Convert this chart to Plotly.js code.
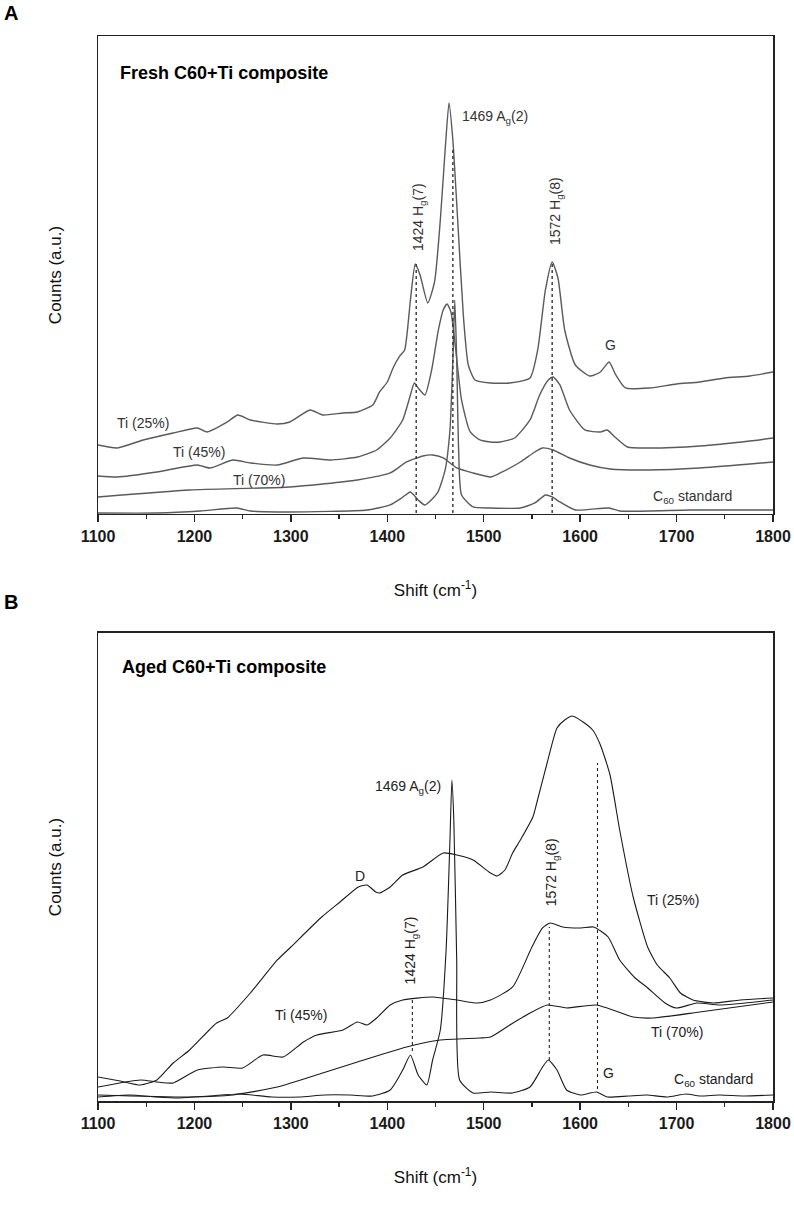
<!DOCTYPE html>
<html><head><meta charset="utf-8">
<script src="https://cdn.plot.ly/plotly-3.0.1.min.js"></script>
<style>body{margin:0;background:#fff}</style>
</head><body><div id="chart" style="width:794px;height:1214px"></div>
<script>
// ---------- Panel A: fresh composite (Raman shift cm-1, counts a.u.) ----------
const shiftA_Ti25 = [1100,1120,1147,1178,1203,1213,1234,1245,1258,1286,1299,1320,1333,1354,1369,1385,1392,1400,1406,1413,1418,1424,1429,1434,1442,1449,1455,1460,1464,1468,1473,1479,1484,1491,1507,1527,1548,1556,1564,1571,1577,1584,1595,1610,1621,1630,1637,1647,1672,1700,1724,1750,1776,1800];
const countsA_Ti25 = [69,66,74,81,86,82,92,99,94,90,92,104,99,101,102,109,122,132,146,158,164,214,250,239,211,232,294,364,411,374,294,197,149,134,131,131,136,164,224,252,236,184,149,138,142,152,139,126,126,130,132,136,138,142];

const shiftA_Ti45 = [1100,1120,1161,1203,1216,1240,1258,1286,1313,1341,1369,1389,1403,1416,1424,1428,1432,1439,1446,1453,1458,1462,1466,1471,1477,1486,1496,1507,1517,1532,1548,1558,1567,1572,1579,1589,1605,1621,1628,1636,1649,1672,1724,1776,1800];
const countsA_Ti45 = [38,37,42,49,46,54,51,49,56,54,57,64,76,94,119,131,126,119,144,184,204,210,202,164,114,82,74,72,72,76,94,119,134,137,129,104,84,82,84,77,67,66,68,73,76];

const shiftA_Ti70 = [1100,1195,1299,1369,1403,1420,1437,1447,1458,1472,1489,1507,1517,1538,1553,1561,1572,1589,1610,1631,1672,1724,1776,1800];
const countsA_Ti70 = [17,24,27,34,41,52,58,59,56,46,41,37,41,52,62,66,64,56,49,45,44,46,50,52];

const shiftA_C60 = [1100,1161,1206,1244,1258,1299,1379,1403,1415,1424,1432,1439,1452,1460,1465,1468,1470,1472,1474,1477,1489,1507,1538,1553,1564,1571,1579,1595,1630,1641,1714,1800];
const countsA_C60 = [1,1,3,6,3,2,4,9,16,22,14,9,21,44,84,154,214,154,64,19,7,6,6,11,19,17,12,4,6,3,4,4];

// peak marker lines (panel A)
const markA_shift = [1430,1468,1571];
const markA_top   = [250,367,252];
const markA_base  = [1,1,1];

// ---------- Panel B: aged composite ----------
const shiftB_Ti25 = [1100,1123,1144,1161,1178,1195,1223,1234,1258,1286,1300,1332,1351,1370,1379,1388,1392,1403,1416,1437,1458,1472,1489,1507,1514,1522,1530,1538,1551,1555,1566,1576,1584,1592,1603,1613,1621,1631,1641,1655,1670,1680,1693,1704,1717,1738,1766,1800];
const countsB_Ti25 = [24,20,16,21,38,51,78,83,108,141,154,184,199,214,216,209,208,214,226,234,248,246,241,228,225,231,248,261,284,298,339,373,381,385,379,371,356,326,271,204,154,136,123,108,101,98,101,103];

const shiftB_Ti45 = [1100,1144,1161,1178,1203,1230,1250,1271,1292,1313,1327,1354,1369,1379,1389,1403,1416,1447,1472,1493,1507,1530,1550,1561,1569,1582,1601,1614,1629,1641,1657,1669,1688,1700,1721,1745,1800];
const countsB_Ti45 = [14,21,19,18,31,34,33,46,44,59,66,71,79,76,83,96,101,104,101,98,101,114,154,173,178,174,173,174,164,141,123,114,98,93,98,96,101];

const shiftB_Ti70 = [1100,1195,1240,1286,1333,1369,1420,1455,1496,1507,1527,1548,1566,1586,1617,1655,1676,1724,1800];
const countsB_Ti70 = [6,4,6,14,28,39,54,61,63,64,76,88,96,93,96,84,83,89,99];

const shiftB_C60 = [1100,1133,1160,1185,1215,1247,1280,1309,1335,1361,1385,1403,1416,1424,1432,1441,1447,1455,1461,1465,1467,1469,1472,1475,1489,1507,1530,1548,1561,1567,1576,1586,1600,1617,1628,1650,1669,1690,1710,1724,1745,1770,1800];
const countsB_C60 = [4,6,4,3,5,7,4,4,6,6,5,11,31,46,26,16,41,71,151,261,321,281,141,21,8,9,8,14,34,41,31,11,6,9,4,5,6,4,7,5,6,5,6];

// peak marker lines (panel B)
const markB_shift = [1426,1568,1618];
const markB_top   = [101,174,338];
const markB_base  = [50,41,12];

// tick labels
const tickVals = [1100,1200,1300,1400,1500,1600,1700,1800];
const tickText = ['1100','1200','1300','1400','1500','1600','1700','1800'];

// ---------- build ----------
const colA = '#5a5a5a', colB = '#1a1a1a';
function curve(x,y,xa,ya,col,w){return {x:x,y:y,xaxis:xa,yaxis:ya,type:'scatter',mode:'lines',line:{color:col,width:w,shape:'spline',smoothing:0.55},hoverinfo:'skip',showlegend:false};}
const traces = [
  curve(shiftA_Ti25,countsA_Ti25,'x','y',colA,1.4),
  curve(shiftA_Ti45,countsA_Ti45,'x','y',colA,1.4),
  curve(shiftA_Ti70,countsA_Ti70,'x','y',colA,1.4),
  curve(shiftA_C60,countsA_C60,'x','y',colA,1.4),
  curve(shiftB_Ti25,countsB_Ti25,'x2','y2',colB,1.1),
  curve(shiftB_Ti45,countsB_Ti45,'x2','y2',colB,1.1),
  curve(shiftB_Ti70,countsB_Ti70,'x2','y2',colB,1.1),
  curve(shiftB_C60,countsB_C60,'x2','y2',colB,1.1)
];
markA_shift.forEach((s,i)=>traces.push({x:[s,s],y:[markA_base[i],markA_top[i]],xaxis:'x',yaxis:'y',type:'scatter',mode:'lines',line:{color:'#333',width:1.4,dash:'dot'},hoverinfo:'skip',showlegend:false}));
markB_shift.forEach((s,i)=>traces.push({x:[s,s],y:[markB_base[i],markB_top[i]],xaxis:'x2',yaxis:'y2',type:'scatter',mode:'lines',line:{color:'#222',width:1.1,dash:'3px,3px'},hoverinfo:'skip',showlegend:false}));

const F = 'Liberation Sans, Arial, sans-serif';
function xax(domainAnchor){return {
  anchor:domainAnchor, range:[1100,1800], showgrid:false, zeroline:false,
  showline:true, mirror:true, linecolor:'#222', linewidth:1.5,
  ticks:'outside', ticklen:7, tickwidth:1.5, tickcolor:'#222',
  tickvals:tickVals, ticktext:tickText,
  minor:{ticks:'outside', ticklen:4, tickwidth:1.3, tickcolor:'#222', tickvals:[1150,1250,1350,1450,1550,1650,1750]},
  tickfont:{family:F,size:16,color:'#1a1a1a',weight:'bold'},
  title:{text:'Shift (cm<sup>-1</sup>)', font:{family:F,size:17,color:'#111'}, standoff:40},
  automargin:false, fixedrange:true};}
function yax(dom,rng,anchor){return {
  domain:dom, anchor:anchor, range:rng, showgrid:false, zeroline:false,
  showline:true, mirror:true, linecolor:'#222', linewidth:1.5,
  ticks:'', showticklabels:false,
  title:{text:'Counts (a.u.)', font:{family:F,size:17,color:'#111'}, standoff:30},
  automargin:false, fixedrange:true};}

function ann(x,y,text,xa,ya,opt){return Object.assign({x:x,y:y,xref:xa,yref:ya,text:text,showarrow:false,font:{family:F,size:14,color:'#333'}},opt||{});}
const annotations = [
  // panel letters & titles
  {x:-0.142,y:1.022,xref:'paper',yref:'paper',xanchor:'left',yanchor:'middle',text:'<b>A</b>',showarrow:false,font:{family:F,size:20,color:'#000'}},
  {x:-0.142,y:0.4685,xref:'paper',yref:'paper',xanchor:'left',yanchor:'middle',text:'<b>B</b>',showarrow:false,font:{family:F,size:20,color:'#000'}},
  {x:0.029,y:0.9653,xref:'paper',yref:'paper',xanchor:'left',yanchor:'middle',text:'<b>Fresh C60+Ti composite</b>',showarrow:false,font:{family:F,size:18,color:'#000'}},
  {x:0.032,y:0.4075,xref:'paper',yref:'paper',xanchor:'left',yanchor:'middle',text:'<b>Aged C60+Ti composite</b>',showarrow:false,font:{family:F,size:18,color:'#000'}},
  // panel A labels
  ann(1475,397,'1469 A<sub>g</sub>(2)','x','y',{xanchor:'left'}),
  ann(1433,297,'1424 H<sub>g</sub>(7)','x','y',{textangle:-90}),
  ann(1575,303,'1572 H<sub>g</sub>(8)','x','y',{textangle:-90}),
  ann(1631,169,'G','x','y'),
  ann(1147,91,'Ti (25%)','x','y'),
  ann(1205,62,'Ti (45%)','x','y'),
  ann(1267,34,'Ti (70%)','x','y'),
  ann(1717,17,'C<sub>60</sub> standard','x','y'),
  // panel B labels
  ann(1458,314,'1469 A<sub>g</sub>(2)','x2','y2',{xanchor:'right',font:{family:F,size:14,color:'#222'}}),
  ann(1372,225,'D','x2','y2',{font:{family:F,size:14,color:'#222'}}),
  ann(1425,151,'1424 H<sub>g</sub>(7)','x2','y2',{textangle:-90,font:{family:F,size:14,color:'#222'}}),
  ann(1571,229,'1572 H<sub>g</sub>(8)','x2','y2',{textangle:-90,font:{family:F,size:14,color:'#222'}}),
  ann(1696,201,'Ti (25%)','x2','y2',{font:{family:F,size:14,color:'#222'}}),
  ann(1311,86,'Ti (45%)','x2','y2',{font:{family:F,size:14,color:'#222'}}),
  ann(1700,69,'Ti (70%)','x2','y2',{font:{family:F,size:14,color:'#222'}}),
  ann(1622,28,'G','x2','y2',{xanchor:'left',font:{family:F,size:14,color:'#222'}}),
  ann(1738,21,'C<sub>60</sub> standard','x2','y2',{font:{family:F,size:14,color:'#222'}})
];

const layout = {
  width:794, height:1214,
  margin:{l:98, r:21, t:36, b:113},
  paper_bgcolor:'#fff', plot_bgcolor:'#fff',
  showlegend:false,
  xaxis: Object.assign(xax('y'),{domain:[0,1]}),
  yaxis: yax([0.5512,1],[0,478],'x'),
  xaxis2: Object.assign(xax('y2'),{domain:[0,1]}),
  yaxis2: yax([0,0.43944],[0,468],'x2'),
  annotations: annotations
};
Plotly.newPlot('chart', traces, layout, {staticPlot:true, displayModeBar:false});
</script></body></html>
